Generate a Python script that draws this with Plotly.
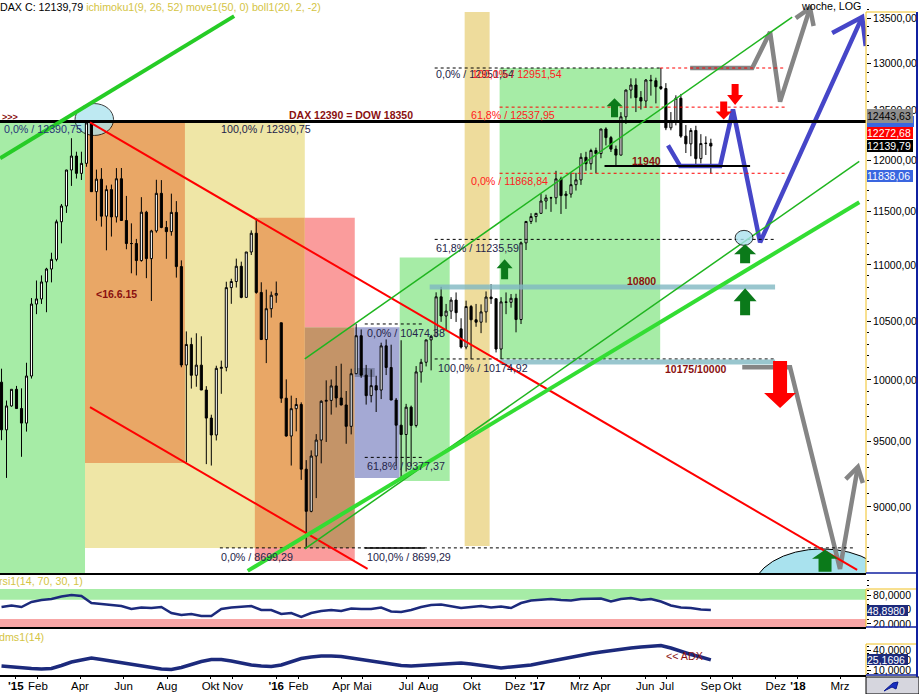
import math
import pandas as pd
import plotly.graph_objects as go

# ---------------- data ----------------
weeks = pd.date_range("2014-12-12", "2017-09-01", freq="W-FRI")
opens = [9981, 9594, 9786, 9922, 9765, 9648, 10032, 10649, 10694, 10846,
         10963, 11051, 11401, 11551, 11901, 12040, 11868, 11967, 12375, 11689,
         11811, 11454, 11709, 11447, 11815, 11413, 11197, 11197, 11040, 11492,
         11058, 11315, 11673, 11347, 11308, 11490, 10985, 10124, 10298, 10038,
         10123, 9916, 9688, 9553, 10096, 10104, 10795, 10850, 10988, 10708,
         11119, 11293, 10752, 10340, 10608, 10727, 10485, 9849, 9545, 9764,
         9798, 9286, 8967, 9388, 9513, 9824, 9831, 9950, 9851, 9794,
         9622, 10051, 10373, 10039, 9870, 9952, 9916, 10286, 10103, 9834,
         9631, 9557, 9776, 9629, 10066, 10147, 10337, 10367, 10713, 10544,
         10587, 10684, 10432, 10276, 10627, 10511, 10490, 10580, 10711, 10696,
         10259, 10668, 10664, 10700, 10513, 11203, 11404, 11450, 11481, 11599,
         11629, 11630, 11814, 11651, 11666, 11757, 11804, 12027, 11963, 12095,
         12064, 12313, 12225, 12109, 12049, 12438, 12717, 12770, 12638, 12602,
         12823, 12816, 12752, 12733, 12325, 12389, 12631, 12240, 12162, 12298,
         12014, 12165, 12168]
highs = [10093, 9830, 9923, 9950, 9930, 10143, 10702, 10859, 10905, 10974,
         11112, 11421, 11570, 11903, 12219, 12083, 12083, 12390, 12391, 11905,
         11920, 11750, 11758, 11920, 11921, 11648, 11386, 11240, 11636, 11505,
         11325, 11805, 11802, 11409, 11670, 11598, 11042, 10410, 10356, 10394,
         10368, 9948, 9715, 10118, 10161, 10848, 10875, 11058, 11030, 11119,
         11320, 11430, 10843, 10777, 10760, 10850, 10485, 10004, 9870, 9851,
         9815, 9356, 9432, 9560, 9832, 9996, 10003, 10116, 10135, 9908,
         10093, 10474, 10427, 10125, 10087, 10034, 10313, 10341, 10296, 9851,
         10334, 9803, 9789, 10115, 10176, 10337, 10380, 10753, 10802, 10650,
         10710, 10752, 10524, 10679, 10641, 10650, 10646, 10761, 10826, 10698,
         10710, 10752, 10738, 10740, 11216, 11405, 11482, 11482, 11669, 11660,
         11640, 11893, 11835, 11695, 11875, 11873, 12068, 12082, 12113, 12124,
         12313, 12330, 12242, 12145, 12486, 12721, 12841, 12841, 12706, 12834,
         12878, 12848, 12952, 12790, 12487, 12662, 12676, 12353, 12322, 12346,
         12260, 12238, 12214]
lows = [9512, 9219, 9780, 9764, 9382, 9580, 10011, 10560, 10650, 10577,
        10842, 11033, 11199, 11485, 11745, 11817, 11803, 11933, 11688, 11411,
        11355, 11134, 11262, 11394, 11413, 11144, 10924, 10905, 11030, 10880,
        10676, 11298, 11340, 11056, 11270, 10885, 10105, 9338, 9928, 9943,
        9916, 9325, 9314, 9510, 9885, 10071, 10651, 10796, 10700, 10708,
        11091, 10740, 10340, 10140, 10530, 10660, 9811, 9540, 9314, 9582,
        9204, 8699, 8960, 9066, 9331, 9498, 9716, 9774, 9791, 9484,
        9558, 10049, 10017, 9797, 9815, 9737, 9842, 10040, 9834, 9311,
        9226, 9268, 9310, 9613, 9977, 10112, 10079, 10360, 10493, 10422,
        10518, 10492, 10263, 10257, 10175, 10450, 10395, 10486, 10650, 10230,
        10175, 10560, 10617, 10402, 10474, 11137, 11380, 11396, 11480, 11520,
        11495, 11568, 11475, 11523, 11631, 11700, 11755, 11894, 11903, 11869,
        12018, 12146, 12080, 11935, 12048, 12364, 12629, 12487, 12513, 12530,
        12658, 12577, 12717, 12301, 12300, 12350, 12223, 12070, 12038, 11935,
        11966, 12050, 11869]
closes = [9594, 9786, 9922, 9765, 9648, 10032, 10649, 10694, 10846, 10963,
          11051, 11401, 11551, 11901, 12040, 11868, 11967, 12375, 11689, 11811,
          11454, 11709, 11447, 11815, 11413, 11197, 11197, 11040, 11492, 11058,
          11315, 11673, 11347, 11308, 11490, 10985, 10124, 10298, 10038, 10123,
          9916, 9688, 9553, 10096, 10104, 10795, 10850, 10988, 10708, 11119,
          11293, 10752, 10340, 10608, 10727, 10743, 9849, 9545, 9764, 9798,
          9286, 8967, 9388, 9513, 9824, 9831, 9950, 9851, 9794, 9622,
          10051, 10373, 10039, 9870, 9952, 9916, 10286, 10103, 9834, 9631,
          9557, 9776, 9629, 10066, 10147, 10337, 10367, 10713, 10544, 10587,
          10684, 10573, 10276, 10627, 10511, 10490, 10580, 10711, 10696, 10259,
          10668, 10664, 10700, 10513, 11203, 11404, 11450, 11481, 11599, 11629,
          11630, 11814, 11651, 11666, 11757, 11804, 12027, 11963, 12095, 12064,
          12313, 12225, 12109, 12049, 12438, 12717, 12770, 12638, 12602, 12823,
          12816, 12752, 12733, 12325, 12389, 12631, 12240, 12162, 12298, 12014,
          12165, 12168, 12139.79]

ind_dates = pd.date_range("2014-12-12", periods=72, freq="14D")
rsi_vals = [55.1, 58.2, 55.1, 65.5, 69.6, 71.7, 76.9, 80.0, 77.9, 63.4,
            61.3, 59.3, 57.2, 51.0, 54.1, 53.0, 55.1, 42.7, 38.5, 40.6,
            36.5, 36.5, 51.0, 54.1, 55.1, 57.2, 48.9, 48.9, 40.6, 42.7,
            34.4, 42.7, 46.8, 48.9, 46.8, 52.0, 51.0, 51.0, 54.1, 45.8,
            44.8, 48.9, 55.1, 59.3, 60.3, 57.2, 53.0, 55.1, 57.2, 54.1,
            56.2, 53.0, 63.4, 68.6, 70.7, 71.7, 69.6, 68.6, 71.7, 72.7,
            72.7, 66.5, 71.7, 73.8, 69.6, 71.7, 66.5, 58.2, 54.1, 53.0,
            49.9, 48.898]
adx_vals = [16, 14.5, 13, 12.3, 11.5, 12.3, 16.8, 22, 25, 28,
            25.8, 23.5, 20.5, 18.3, 16.8, 14.5, 11.5, 10.8, 13.8, 18.3,
            22.8, 25.8, 25.8, 23.5, 20.5, 17.5, 16, 15.3, 17.5, 22.8,
            27.3, 29.5, 31, 31, 30.3, 28, 25.8, 23.5, 21.3, 19,
            16.8, 16, 16.8, 18.3, 19, 19.8, 20.5, 19, 16.8, 14.5,
            13, 14.5, 16, 17.5, 20.5, 23.5, 26.5, 29.5, 32.5, 34.8,
            37, 39.3, 40.8, 43, 44.5, 46, 46.8, 43, 37.8, 33.3,
            29.5, 25.1696]

month_ticks = ["2015-01-01", "2015-02-01", "2015-04-01", "2015-06-01", "2015-08-01",
               "2015-10-01", "2015-11-01", "2016-01-01", "2016-02-01", "2016-04-01",
               "2016-05-01", "2016-07-01", "2016-08-01", "2016-10-01", "2016-12-01",
               "2017-01-01", "2017-03-01", "2017-04-01", "2017-06-01", "2017-07-01",
               "2017-09-01", "2017-10-01", "2017-12-01", "2018-01-01", "2018-03-01"]
month_labels = ["<b>'15</b>", "Feb", "Apr", "Jun", "Aug", "Okt", "Nov", "<b>'16</b>", "Feb",
                "Apr", "Mai", "Jul", "Aug", "Okt", "Dez", "<b>'17</b>", "Mrz", "Apr",
                "Jun", "Jul", "Sep", "Okt", "Dez", "<b>'18</b>", "Mrz"]
price_ticks = [9000, 9500, 10000, 10500, 11000, 11500, 12000, 12500, 13000, 13500]
rsi_ticks = [20, 50, 80]
adx_ticks = [10, 25, 40]

# projections (hand drawn scenario paths)
blue_dates = ["2017-07-03", "2017-07-20", "2017-09-14", "2017-10-02", "2017-11-09", "2018-04-01"]
blue_prices = [12146, 11940, 11940, 12513, 11208, 13510]
blue_head_dates = ["2018-02-18", "2018-04-01", "2018-04-06"]
blue_head_prices = [13332, 13510, 13189]
grayup_dates = ["2017-08-03", "2017-10-29", "2017-11-23", "2017-12-07", "2018-01-18"]
grayup_prices = [12951, 12951, 13343, 12596, 13612]
grayup_head_dates = ["2017-12-29", "2018-01-18", "2018-01-23"]
grayup_head_prices = [13499, 13612, 13410]
graydn_dates = ["2017-10-15", "2017-12-21", "2018-03-01", "2018-03-26"]
graydn_prices = [10105, 10105, 8549, 9303]
graydn_head_dates = ["2018-03-09", "2018-03-26", "2018-04-02"]
graydn_head_prices = [9210, 9303, 9180]

# ---------------- geometry ----------------
W, H = 919, 694
MR, MB = 53, 17
PW, PH = W - MR, H - MB


def fx(px):
    return px / PW


def fy(py):
    return 1 - py / PH


X_RANGE = ["2014-12-09 21:00", "2018-04-06 10:00"]
LO, HI = 8520, 13703
FONT = "Liberation Sans, Arial, sans-serif"

fig = go.Figure()
fig.add_trace(go.Candlestick(
    x=weeks, open=opens, high=highs, low=lows, close=closes,
    increasing=dict(line=dict(color="black", width=1), fillcolor="white"),
    decreasing=dict(line=dict(color="black", width=1), fillcolor="black"),
    whiskerwidth=0, showlegend=False, hoverinfo="skip", xaxis="x", yaxis="y"))

for xs, ys, col in [(blue_dates, blue_prices, "#4646c8"), (blue_head_dates, blue_head_prices, "#4646c8"),
                    (grayup_dates, grayup_prices, "#858585"), (grayup_head_dates, grayup_head_prices, "#858585"),
                    (graydn_dates, graydn_prices, "#858585"), (graydn_head_dates, graydn_head_prices, "#858585")]:
    fig.add_trace(go.Scatter(x=xs, y=ys, mode="lines", line=dict(color=col, width=4.5),
                             showlegend=False, hoverinfo="skip", xaxis="x", yaxis="y"))

fig.add_trace(go.Scatter(x=ind_dates, y=rsi_vals, mode="lines", line=dict(color="#1c2a7c", width=2.5),
                         showlegend=False, hoverinfo="skip", xaxis="x2", yaxis="y2"))
fig.add_trace(go.Scatter(x=ind_dates, y=adx_vals, mode="lines", line=dict(color="#1c2a7c", width=3.5),
                         showlegend=False, hoverinfo="skip", xaxis="x3", yaxis="y3"))

shapes = []
# background boxes (x0, x1, y0, y1, colour)
boxes = [
    ("2014-12-01", "2015-04-08", 8400, 12390.75, "#a6eca6"),
    ("2015-04-08", "2016-02-10", 8699.29, 12390.75, "#efe6a6"),
    ("2015-04-08", "2015-08-26", 9334, 12390.75, "#e9a766"),
    ("2015-12-02", "2016-02-10", 8699.29, 11440, "#e9a766"),
    ("2016-02-10", "2016-04-20", 10445, 11440, "#fa9c9c"),
    ("2016-02-10", "2016-04-20", 8699.29, 10445, "#c49468"),
    ("2015-12-02", "2016-04-20", 8606, 8699.29, "#fa9c9c"),
    ("2016-04-20", "2016-06-22", 9218, 10445, "#a4a9d4"),
    ("2016-06-22", "2016-08-31", 9196, 11069, "#a6eca6"),
    ("2016-09-21", "2016-10-26", 8713, 13566, "#eedc9c"),
    ("2016-11-09", "2017-06-22", 10174.92, 12951.54, "#a6eca6"),
    ("2016-04-20", "2016-05-18", 10024, 10099, "#7d84a8"),
]
for x0, x1, y0, y1, c in boxes:
    shapes.append(dict(type="rect", xref="x", yref="y", x0=x0, x1=x1, y0=y0, y1=y1,
                       fillcolor=c, line=dict(width=0), layer="below"))

# ellipses
shapes.append(dict(type="circle", xref="x", yref="y", x0="2015-03-25", x1="2015-05-18", y0=12247, y1=12575,
                   fillcolor="#a9e2ee", opacity=0.75, line=dict(color="black", width=1), layer="below"))
shapes.append(dict(type="circle", xref="x", yref="y", x0="2017-10-29", x1="2018-05-13", y0=8097, y1=8692,
                   fillcolor="#a9e2ee", line=dict(color="black", width=1), layer="below"))

# level lines (x0, x1, price, colour, dash, width)
levels = [
    ("2014-12-01", "2018-05-01", 12390.75, "black", "solid", 3),
    ("2016-05-04", "2016-07-27", 10474.38, "black", "dot", 1),
    ("2016-05-04", "2016-07-27", 9377.37, "black", "dot", 1),
    ("2016-08-10", "2017-11-30", 10174.92, "black", "dot", 1),
    ("2015-10-14", "2018-03-22", 8699.29, "black", "dot", 1),
    ("2016-05-04", "2016-07-27", 8699.29, "black", "solid", 1.5),
    ("2016-08-10", "2017-06-22", 12951.54, "black", "dot", 1),
    ("2017-06-22", "2017-12-14", 12951.54, "red", "dot", 1),
    ("2016-11-09", "2017-12-14", 12537.95, "red", "dot", 1),
    ("2016-11-09", "2017-12-14", 11868.84, "red", "dot", 1),
    ("2016-08-10", "2017-11-30", 11235.59, "black", "dot", 1),
    ("2017-04-05", "2017-10-26", 11940, "black", "solid", 2),
    ("2016-08-03", "2017-11-30", 10800, "rgba(128,184,194,0.8)", "solid", 5),
    ("2016-11-09", "2017-11-30", 10150, "rgba(128,184,194,0.8)", "solid", 5),
]
for x0, x1, p, c, d, w in levels:
    shapes.append(dict(type="line", xref="x", yref="y", x0=x0, x1=x1, y0=p, y1=p,
                       line=dict(color=c, dash=d, width=w), layer="above"))

# trend lines
trends = [
    ("2014-12-10", 12018, "2015-11-03", 13521, "#26cc26", 4),
    ("2015-04-15", 12380, "2018-03-25", 8542, "#ff0000", 2),
    ("2015-04-15", 9777, "2016-05-08", 8549, "#ff0000", 2),
    ("2016-02-10", 10175, "2017-12-24", 13510, "#1fb51f", 1.5),
    ("2016-02-10", 8692, "2018-03-28", 11987, "#1fb51f", 1.5),
    ("2015-11-22", 8535, "2018-03-28", 11587, "#33dd33", 4),
]
for x0, y0, x1, y1, c, w in trends:
    shapes.append(dict(type="line", xref="x", yref="y", x0=x0, x1=x1, y0=y0, y1=y1,
                       line=dict(color=c, width=w), layer="above"))

shapes.append(dict(type="circle", xref="x", yref="y", x0="2017-10-05", x1="2017-10-30", y0=11180, y1=11320,
                   fillcolor="#a9e2ee", opacity=0.8, line=dict(color="black", width=1), layer="above"))


def block_arrow(xa, ya, hw, sw, hs, h, up, color):
    s = 1 if up else -1
    pts = [(-sw / 2, 0), (sw / 2, 0), (sw / 2, s * hs), (hw / 2, s * hs), (0, s * h),
           (-hw / 2, s * hs), (-sw / 2, s * hs)]
    path = "M " + " L ".join(f"{x},{y}" for x, y in pts) + " Z"
    return dict(type="path", xref="x", yref="y", xsizemode="pixel", ysizemode="pixel",
                xanchor=xa, yanchor=ya, path=path, fillcolor=color, line=dict(width=0), layer="above")


arrows = [
    ("2017-04-19", 12432, 16, 7, 11, 19, True, "#0b7a1a"),
    ("2016-11-16", 10870, 16, 7, 11, 20, True, "#0b7a1a"),
    ("2017-10-19", 11015, 22, 10, 9, 19, True, "#0b7a1a"),
    ("2017-10-19", 10550, 23, 10, 14, 27, True, "#0b7a1a"),
    ("2018-02-08", 8528, 26, 13, 13, 22, True, "#0b7a1a"),
    ("2017-09-19", 12596, 16, 7, 10, 18, False, "#ff0000"),
    ("2017-10-05", 12780, 16, 7, 11, 21, False, "#ff0000"),
    ("2017-12-07", 10157, 32, 14, 32, 47, False, "#ff0000"),
]
for a in arrows:
    shapes.append(block_arrow(*a))

# indicator bands
shapes.append(dict(type="rect", xref="x2 domain", yref="y2", x0=0, x1=1, y0=70, y1=92.4,
                   fillcolor="#a6eca6", line=dict(width=0), layer="below"))
shapes.append(dict(type="rect", xref="x2 domain", yref="y2", x0=0, x1=1, y0=13.7, y1=30,
                   fillcolor="#f8a6a6", line=dict(width=0), layer="below"))

# panel separators and axis frames (paper coords)
for py in (574, 628):
    shapes.append(dict(type="line", xref="paper", yref="paper", x0=0, x1=1, y0=fy(py), y1=fy(py),
                       line=dict(color="black", width=2)))
shapes.append(dict(type="rect", xref="paper", yref="paper", x0=fx(866), x1=fx(919), y0=fy(627.5), y1=fy(644),
                   fillcolor="white", line=dict(width=0)))
shapes.append(dict(type="rect", xref="paper", yref="paper", x0=fx(866), x1=fx(919), y0=fy(694), y1=fy(677),
                   fillcolor="#d6d6de", line=dict(color="black", width=1)))
shapes.append(dict(type="path", xref="paper", yref="paper",
                   path=f"M {fx(884)},{fy(691)} L {fx(893)},{fy(683)} L {fx(898)},{fy(682)} L {fx(896)},{fy(689)} L {fx(892)},{fy(687)} Z",
                   fillcolor="#1a30c0", line=dict(color="#0a1a90", width=1)))
for top, bot in ((12, 573), (589, 627), (644, 675)):
    shapes.append(dict(type="line", xref="paper", yref="paper", x0=fx(866), x1=fx(866), y0=fy(top), y1=fy(bot),
                       line=dict(color="#f0c020", width=1)))
    shapes.append(dict(type="line", xref="paper", yref="paper", x0=fx(866), x1=fx(916), y0=fy(top), y1=fy(top),
                       line=dict(color="#f0c020", width=1)))
    shapes.append(dict(type="line", xref="paper", yref="paper", x0=fx(866), x1=fx(916), y0=fy(bot), y1=fy(bot),
                       line=dict(color="#1020a0", width=1.5)))
shapes.append(dict(type="line", xref="paper", yref="paper", x0=fx(917), x1=fx(917), y0=fy(677), y1=fy(12),
                   line=dict(color="#1020a0", width=2)))
# hidden blue value box under the grey one
shapes.append(dict(type="rect", xref="paper", yref="paper", x0=fx(867), x1=fx(914), y0=fy(127), y1=fy(116),
                   fillcolor="#3a66e0", line=dict(width=0)))

ann = []
L10 = math.log10


def txt(x, p, s, color="#24244a", size=10.7, bold=False, xanchor="left"):
    ann.append(dict(x=x, y=L10(p), xref="x", yref="y", text=f"<b>{s}</b>" if bold else s,
                    showarrow=False, xanchor=xanchor, yanchor="middle",
                    font=dict(family=FONT, size=size, color=color)))


txt("2014-12-12", 12317, "0,0% / 12390,75", color="#283478")
txt("2015-10-13", 12317, "100,0% / 12390,75")
txt("2016-08-09", 12891, "0,0% / 12951,54")
txt("2016-09-28", 12891, "100,0% / 12951,54", color="#ff2020")
txt("2016-09-27", 12461, "61,8% / 12537,95", color="#ff2020")
txt("2016-09-27", 11797, "0,0% / 11868,84", color="#ff2020")
txt("2016-08-09", 11153, "61,8% / 11235,59")
txt("2016-08-12", 10097, "100,0% / 10174,92")
txt("2016-05-05", 10394, "0,0% / 10474,38")
txt("2016-05-05", 9311, "61,8% / 9377,37")
txt("2015-10-13", 8635, "0,0% / 8699,29")
txt("2016-05-05", 8635, "100,0% / 8699,29")
txt("2016-01-16", 12461, "DAX 12390 = DOW 18350", color="#8a1010", size=10.5, bold=True)
txt("2015-04-21", 10735, "<16.6.15", color="#8a1010", size=10.5, bold=True)
txt("2017-05-11", 11990, "11940", color="#8a1010", size=10.5, bold=True)
txt("2017-05-04", 10858, "10800", color="#8a1010", size=10.5, bold=True)
txt("2017-06-26", 10090, "10175/10000", color="#8a1010", size=10.5, bold=True)
ann.append(dict(x=0, y=L10(12441), xref="paper", yref="y", text="<b>&gt;&gt;&gt;</b>", showarrow=False,
                xanchor="left", yanchor="middle", font=dict(family=FONT, size=9, color="#8a1010")))
ann.append(dict(x="2017-06-27", y=31, xref="x3", yref="y3", text="&lt;&lt; ADX", showarrow=False,
                xanchor="left", yanchor="middle", font=dict(family=FONT, size=10.7, color="#8a1010")))

ann.append(dict(x=0, y=fy(7), xref="paper", yref="paper", showarrow=False, xanchor="left", yanchor="middle",
                xshift=-2,
                text="DAX C: 12139,79 <span style='color:#d4c444'>ichimoku1(9, 26, 52) move1(50, 0) boll1(20, 2, -2)</span>",
                font=dict(family=FONT, size=10.7, color="black")))
ann.append(dict(x=fx(863), y=fy(6), xref="paper", yref="paper", showarrow=False, xanchor="right",
                yanchor="middle", text="woche, LOG", font=dict(family=FONT, size=10.7, color="black")))
ann.append(dict(x=0, y=fy(581), xref="paper", yref="paper", showarrow=False, xanchor="left", yanchor="middle",
                xshift=-3, text="rsi1(14, 70, 30, 1)", font=dict(family=FONT, size=10.7, color="#d4c444")))
ann.append(dict(x=0, y=fy(637), xref="paper", yref="paper", showarrow=False, xanchor="left", yanchor="middle",
                xshift=-3, text="dms1(14)", font=dict(family=FONT, size=10.7, color="#d4c444")))

# value boxes on the right axis
for s, p, bg, fg, hgt in [("12443,63", 12443.63, "#8e8e8e", "black", 14),
                          ("12272,68", 12272.68, "#ff0000", "white", 12),
                          ("12139,79", 12139.79, "#000000", "white", 12),
                          ("11838,06", 11838.06, "#3a66e0", "white", 12)]:
    ann.append(dict(x=fx(867), y=L10(p), xref="paper", yref="y", text=s, showarrow=False, xanchor="left",
                    yanchor="middle", bgcolor=bg, width=46, height=hgt, borderpad=0, borderwidth=0,
                    align="left", font=dict(family=FONT, size=10.5, color=fg)))
ann.append(dict(x=fx(867), y=48.898, xref="paper", yref="y2", text="48,8980", showarrow=False, xanchor="left",
                yanchor="middle", bgcolor="#1c2a7c", width=41, height=11, borderpad=0, borderwidth=0,
                align="left", font=dict(family=FONT, size=10.5, color="white")))
ann.append(dict(x=fx(867), y=25.1696, xref="paper", yref="y3", text="25,1696", showarrow=False, xanchor="left",
                yanchor="middle", bgcolor="#1c2a7c", width=41, height=11, borderpad=0, borderwidth=0,
                align="left", font=dict(family=FONT, size=10.5, color="white")))

axis_common = dict(type="date", range=X_RANGE, showgrid=False, zeroline=False, showline=False, automargin=False)
yax_common = dict(side="right", showgrid=False, zeroline=False, ticks="outside", ticklen=4, tickcolor="black",
                  tickfont=dict(family=FONT, size=10.5, color="black"), automargin=False, fixedrange=True)

fig.update_layout(
    width=W, height=H, margin=dict(l=0, r=MR, t=0, b=MB, pad=0),
    paper_bgcolor="white", plot_bgcolor="white", showlegend=False, boxgap=0.4,
    font=dict(family=FONT, size=11, color="black"),
    xaxis=dict(**axis_common, anchor="y", showticklabels=False, rangeslider=dict(visible=False)),
    xaxis2=dict(**axis_common, anchor="y2", matches="x", showticklabels=False),
    xaxis3=dict(**axis_common, anchor="y3", matches="x", tickvals=month_ticks, ticktext=month_labels,
                ticks="outside", ticklen=2, tickcolor="black", ticklabelstandoff=-3, tickangle=0,
                tickfont=dict(family=FONT, size=11.5, color="black")),
    yaxis=dict(**yax_common, type="log", domain=[fy(573), 1], anchor="x",
               range=[math.log10(LO), math.log10(HI)], tickvals=price_ticks,
               ticktext=[f"{v},00" for v in price_ticks],
               minor=dict(tickvals=list(range(8600, 13700, 100)), ticks="outside", ticklen=2, tickcolor="black")),
    yaxis2=dict(**yax_common, domain=[fy(627), fy(576)], anchor="x2", range=[13.66, 119.4],
                tickvals=rsi_ticks, ticktext=[f"{v},0000" for v in rsi_ticks],
                minor=dict(dtick=10, ticks="outside", ticklen=2, tickcolor="black")),
    yaxis3=dict(**yax_common, domain=[fy(675), fy(630)], anchor="x3", range=[2.5, 70],
                tickvals=adx_ticks, ticktext=[f"{v},0000" for v in adx_ticks],
                minor=dict(dtick=5, ticks="outside", ticklen=2, tickcolor="black")),
    shapes=shapes, annotations=ann,
)
fig.update_xaxes(showline=True, linecolor="black", linewidth=2, selector=dict(anchor="y3"))

fig.write_html("out.html", config={"displayModeBar": False},
               post_script="document.body.style.margin='0px';document.body.style.overflow='hidden';")
